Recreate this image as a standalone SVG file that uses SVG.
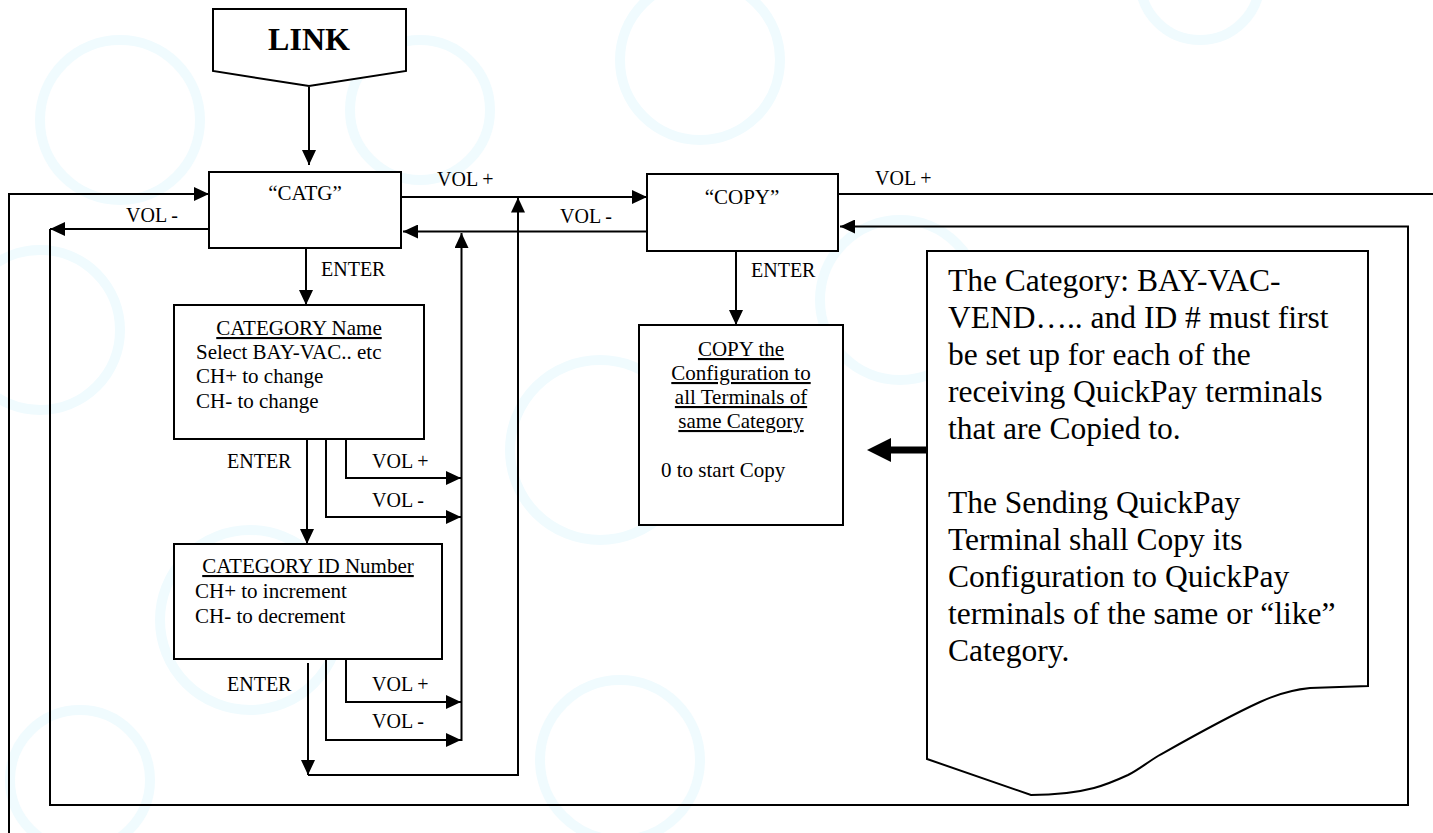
<svg xmlns="http://www.w3.org/2000/svg" width="1433" height="833" viewBox="0 0 1433 833">
<style>
.bx{fill:#fff;stroke:#000;stroke-width:2}
.ln{fill:none;stroke:#000;stroke-width:2}
.t{font-family:"Liberation Serif","Times New Roman",serif;fill:#000}
.lb{font-size:20px}
.bt{font-size:21px}
.nt{font-size:31.5px}
.wm{fill:none;stroke:#f0fbfe;stroke-width:10}
</style>
<defs>
<marker id="ah" markerUnits="userSpaceOnUse" markerWidth="16" markerHeight="14" refX="15" refY="7" orient="auto">
<path d="M0,0 L15,7 L0,14 z" fill="#000"/>
</marker>
</defs>
<rect width="1433" height="833" fill="#fff"/>
<g id="watermark">
<circle class="wm" cx="120" cy="120" r="80"/>
<circle class="wm" cx="420" cy="110" r="70"/>
<circle class="wm" cx="700" cy="60" r="80"/>
<circle class="wm" cx="1200" cy="-20" r="60"/>
<circle class="wm" cx="40" cy="330" r="80"/>
<circle class="wm" cx="250" cy="620" r="90"/>
<circle class="wm" cx="600" cy="450" r="90"/>
<circle class="wm" cx="900" cy="300" r="80"/>
<circle class="wm" cx="80" cy="780" r="70"/>
<circle class="wm" cx="620" cy="760" r="80"/>
</g>
<g id="connectors">
<line class="ln" x1="309" y1="87" x2="309" y2="165" marker-end="url(#ah)"/>
<polyline class="ln" points="9,833 9,194 209,194" marker-end="url(#ah)"/>
<line class="ln" x1="209" y1="229" x2="50" y2="229" marker-end="url(#ah)"/>
<polyline class="ln" points="50,229 50,805 1408,805 1408,226.5 840,226.5" marker-end="url(#ah)"/>
<line class="ln" x1="401" y1="197" x2="647" y2="197" marker-end="url(#ah)"/>
<line class="ln" x1="647" y1="231.5" x2="403" y2="231.5" marker-end="url(#ah)"/>
<line class="ln" x1="838" y1="194" x2="1433" y2="194"/>
<line class="ln" x1="306" y1="248" x2="306" y2="305" marker-end="url(#ah)"/>
<line class="ln" x1="736" y1="251" x2="736" y2="325" marker-end="url(#ah)"/>
<line class="ln" x1="307" y1="439" x2="307" y2="544" marker-end="url(#ah)"/>
<polyline class="ln" points="346,439 346,478 461,478" marker-end="url(#ah)"/>
<polyline class="ln" points="326,439 326,517 461,517" marker-end="url(#ah)"/>
<polyline class="ln" points="346,660 346,702 461,702" marker-end="url(#ah)"/>
<polyline class="ln" points="326,660 326,740 461,740" marker-end="url(#ah)"/>
<line class="ln" x1="461.5" y1="741" x2="461.5" y2="233" marker-end="url(#ah)"/>
<line class="ln" x1="308" y1="663" x2="308" y2="775" marker-end="url(#ah)"/>
<polyline class="ln" points="308,775 518,775 518,197.5" marker-end="url(#ah)"/>
<line x1="927" y1="450" x2="888" y2="450" stroke="#000" stroke-width="7"/>
<polygon points="867,450 891,438 891,462" fill="#000"/>
</g>
<g id="link">
<polygon class="bx" points="213,9 406,9 406,71 309,86 213,71"/>
<text class="t" x="309" y="50" font-size="32" font-weight="bold" text-anchor="middle">LINK</text>
</g>
<g id="catg">
<rect class="bx" x="209" y="172" width="192" height="76"/>
<text class="t bt" x="305" y="200" text-anchor="middle">“CATG”</text>
</g>
<g id="copy">
<rect class="bx" x="647" y="174" width="191" height="77"/>
<text class="t bt" x="742" y="204" text-anchor="middle">“COPY”</text>
</g>
<g id="category-name">
<rect class="bx" x="174" y="305" width="250" height="134"/>
<text class="t bt" x="299" y="335" text-anchor="middle" text-decoration="underline">CATEGORY Name</text>
<text class="t bt" x="196" y="359">Select BAY-VAC.. etc</text>
<text class="t bt" x="196" y="383">CH+ to change</text>
<text class="t bt" x="196" y="408">CH- to change</text>
</g>
<g id="category-id">
<rect class="bx" x="174" y="544" width="268" height="115"/>
<text class="t bt" x="308" y="573" text-anchor="middle" text-decoration="underline">CATEGORY ID Number</text>
<text class="t bt" x="195" y="598">CH+ to increment</text>
<text class="t bt" x="195" y="623">CH- to decrement</text>
</g>
<g id="copy-config">
<rect class="bx" x="639" y="325" width="204" height="200"/>
<text class="t bt" x="741" y="356" text-anchor="middle" text-decoration="underline">COPY the</text>
<text class="t bt" x="741" y="380" text-anchor="middle" text-decoration="underline">Configuration to</text>
<text class="t bt" x="741" y="404" text-anchor="middle" text-decoration="underline">all Terminals of</text>
<text class="t bt" x="741" y="428" text-anchor="middle" text-decoration="underline">same Category</text>
<text class="t bt" x="661" y="477">0 to start Copy</text>
</g>
<g id="note">
<path class="bx" d="M927,251 L1368,251 L1368,686 L1310,688 C1290,690 1275,695 1260,702 C1225,718 1190,738 1158,756 C1145,764 1138,770 1128,775 C1115,781 1105,785 1094,788 C1075,793 1055,795 1031,795 L927,759 Z"/>
<text class="t nt" x="948" y="291">The Category: BAY-VAC-</text>
<text class="t nt" x="948" y="328">VEND….. and ID # must first</text>
<text class="t nt" x="948" y="365">be set up for each of the</text>
<text class="t nt" x="948" y="402">receiving QuickPay terminals</text>
<text class="t nt" x="948" y="439">that are Copied to.</text>
<text class="t nt" x="948" y="513">The Sending QuickPay</text>
<text class="t nt" x="948" y="550">Terminal shall Copy its</text>
<text class="t nt" x="948" y="587">Configuration to QuickPay</text>
<text class="t nt" x="948" y="624">terminals of the same or “like”</text>
<text class="t nt" x="948" y="661">Category.</text>
</g>
<g id="labels">
<text class="t lb" x="437" y="186">VOL +</text>
<text class="t lb" x="560" y="223">VOL -</text>
<text class="t lb" x="875" y="185">VOL +</text>
<text class="t lb" x="126" y="222">VOL -</text>
<text class="t lb" x="321" y="276">ENTER</text>
<text class="t lb" x="751" y="277">ENTER</text>
<text class="t lb" x="227" y="468">ENTER</text>
<text class="t lb" x="372" y="468">VOL +</text>
<text class="t lb" x="372" y="507">VOL -</text>
<text class="t lb" x="227" y="691">ENTER</text>
<text class="t lb" x="372" y="691">VOL +</text>
<text class="t lb" x="372" y="728">VOL -</text>
</g>
</svg>
